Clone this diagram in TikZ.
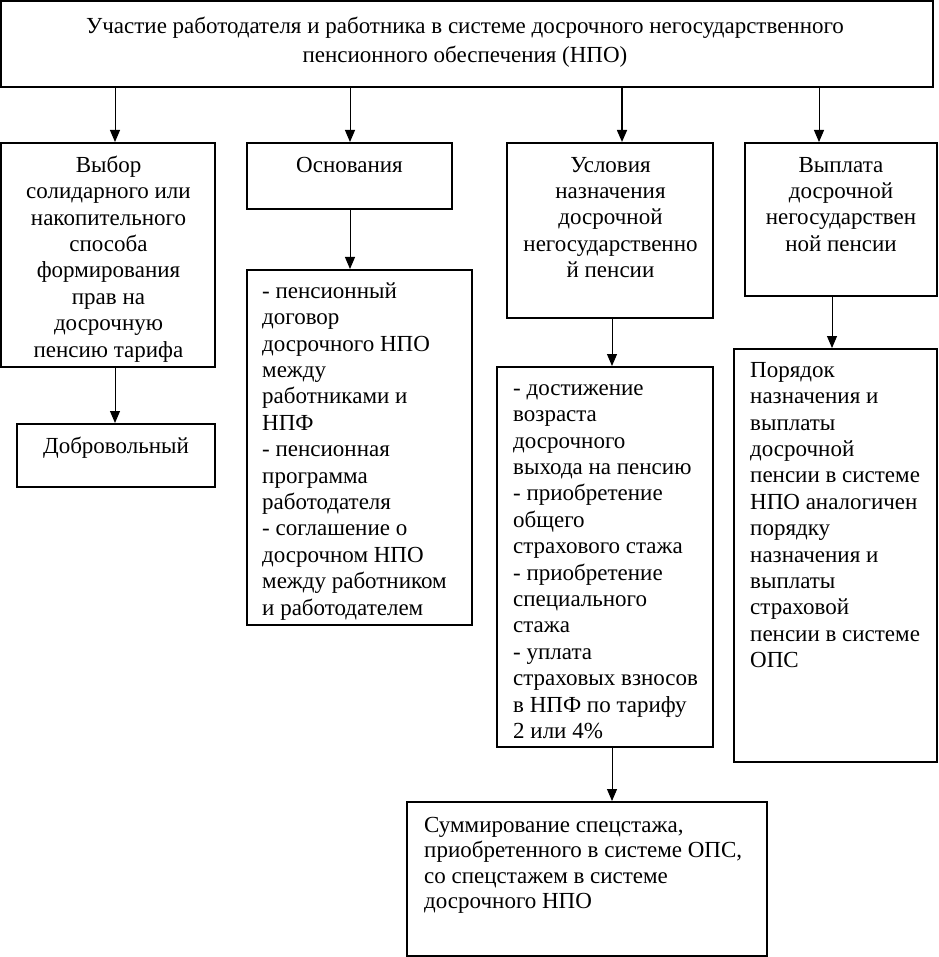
\documentclass[tikz,border=0pt]{standalone}
\usepackage{fontspec}
\setmainfont{Liberation Serif}
\usetikzlibrary{arrows.meta,fit}
\begin{document}
\begin{tikzpicture}[x=1pt,y=-1pt,
  box/.style={draw,line width=2pt,inner sep=0pt},
  txt/.style={inner sep=0pt,font=\fontsize{23}{26.4}\selectfont},
  toptxt/.style={inner sep=0pt,font=\fontsize{23}{29}\selectfont,align=center,anchor=north},
  ctxt/.style={txt,align=center,anchor=north},
  ltxt/.style={txt,align=left,anchor=north west},
  arr/.style={line width=1pt,-{Triangle[width=10pt,length=12pt]}}]
\useasboundingbox (0,0) rectangle (938,957);
% boxes
\node[box,fit={(1,1)(933,87)}] (top) {};
\node[box,fit={(1,143)(215,367)}] (b1) {};
\node[box,fit={(17,424)(215,487)}] (dob) {};
\node[box,fit={(247,143)(452,209)}] (osn) {};
\node[box,fit={(247,270)(472,625)}] (l2) {};
\node[box,fit={(507,143)(713,318)}] (usl) {};
\node[box,fit={(497,367)(713,747)}] (l3) {};
\node[box,fit={(745,143)(937,296)}] (vyp) {};
\node[box,fit={(734,349)(937,762)}] (por) {};
\node[box,fit={(407,802)(767,956)}] (sum) {};
% texts
\node[toptxt] (ttop) at (465,15) {\rule{0pt}{18pt}Участие работодателя и работника в системе досрочного негосударственного\\
пенсионного обеспечения (НПО)};
\node[ctxt] (tb1) at (108.5,154) {\rule{0pt}{18pt}Выбор\\солидарного или\\накопительного\\способа\\формирования\\прав на\\досрочную\\пенсию тарифа};
\node[ctxt] (tosn) at (349.5,154) {\rule{0pt}{18pt}Основания};
\node[ctxt] (tusl) at (610.5,154) {\rule{0pt}{18pt}Условия\\назначения\\досрочной\\негосударственно\\й пенсии};
\node[ctxt] (tvyp) at (841,154) {\rule{0pt}{18pt}Выплата\\досрочной\\негосударствен\\ной пенсии};
\node[ctxt] (tdob) at (116,435) {\rule{0pt}{18pt}Добровольный};
\node[ltxt] (tl2) at (262,280) {\rule{0pt}{18pt}- пенсионный\\договор\\досрочного НПО\\между\\работниками и\\НПФ\\- пенсионная\\программа\\работодателя\\- соглашение о\\досрочном НПО\\между работником\\и работодателем};
\node[ltxt] (tl3) at (513,377) {\rule{0pt}{18pt}- достижение\\возраста\\досрочного\\выхода на пенсию\\- приобретение\\общего\\страхового стажа\\- приобретение\\специального\\стажа\\- уплата\\страховых взносов\\в НПФ по тарифу\\2 или 4\%};
\node[ltxt] (tpor) at (750,359) {\rule{0pt}{18pt}Порядок\\назначения и\\выплаты\\досрочной\\пенсии в системе\\НПО аналогичен\\порядку\\назначения и\\выплаты\\страховой\\пенсии в системе\\ОПС};
\node[ltxt,font=\fontsize{23}{25.5}\selectfont] (tsum) at (424,814) {\rule{0pt}{18pt}Суммирование спецстажа,\\приобретенного в системе ОПС,\\со спецстажем в системе\\досрочного НПО};
% connector x positions
\coordinate (xa) at (115,0);
\coordinate (xb) at (350,0);
\coordinate (xc) at (622,0);
\coordinate (xd) at (819,0);
\coordinate (xe) at (612,0);
\coordinate (xf) at (832,0);
% connectors
\draw[arr] (top.south -| xa) -- (b1.north -| xa);
\draw[arr] (top.south -| xb) -- (osn.north -| xb);
\draw[arr,line width=1.6pt] (top.south -| xc) -- (usl.north -| xc);
\draw[arr] (top.south -| xd) -- (vyp.north -| xd);
\draw[arr] (b1.south -| xa) -- (dob.north -| xa);
\draw[arr] (osn.south -| xb) -- (l2.north -| xb);
\draw[arr] (usl.south -| xe) -- (l3.north -| xe);
\draw[arr] (vyp.south -| xf) -- (por.north -| xf);
\draw[arr] (l3.south -| xe) -- (sum.north -| xe);
\end{tikzpicture}
\end{document}
